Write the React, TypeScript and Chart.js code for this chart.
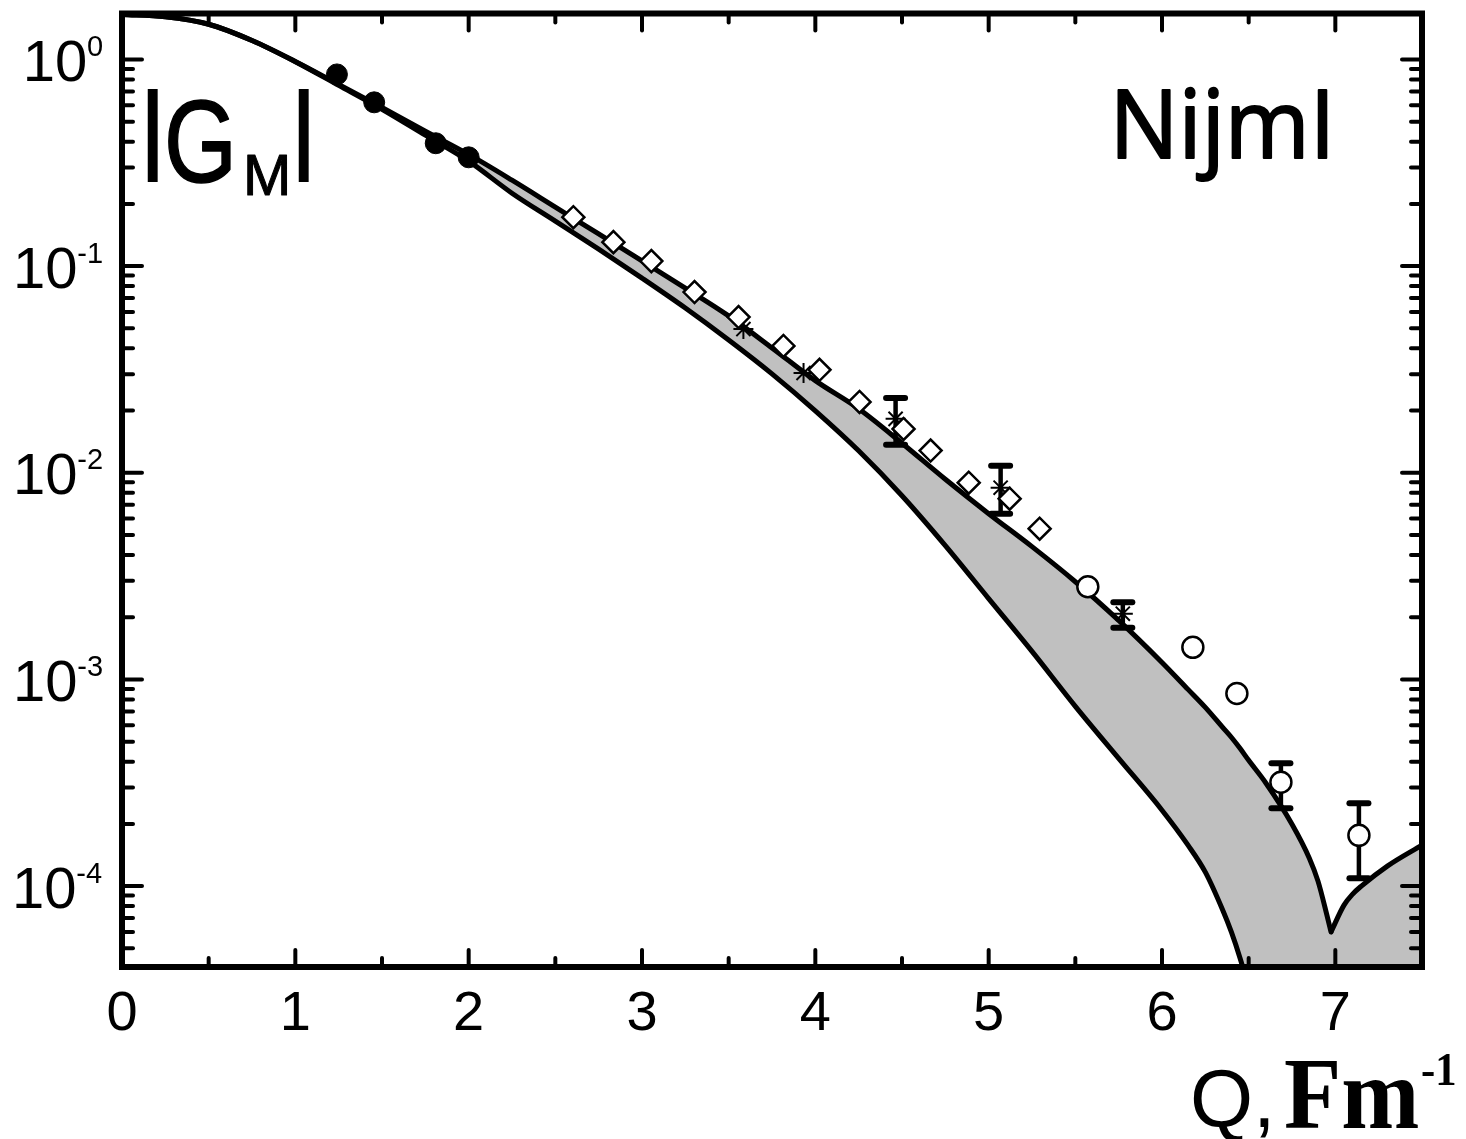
import React, { useEffect, useRef } from "react";
import { Chart, registerables } from "chart.js";

Chart.register(...registerables);

// ---- model band: lower curve and upper curve (left of the zero crossing) ----
const curveQ = [0, 0.25, 0.5, 0.75, 1.0, 1.25, 1.5, 1.75, 2.0, 2.25, 2.5, 2.75, 3.0, 3.25, 3.5, 3.75, 4.0, 4.25, 4.5, 4.75, 5.0, 5.25, 5.5, 5.75, 6.0, 6.15, 6.25, 6.35, 6.4, 6.45, 6.5, 6.6, 6.75, 6.85, 6.9, 6.95, 6.975];
const upperG = [1.65, 1.61, 1.48, 1.235, 0.978, 0.757, 0.586, 0.449, 0.347, 0.2604, 0.193, 0.143, 0.106, 0.0783, 0.0574, 0.0402, 0.0279, 0.0204, 0.0139, 0.0093, 0.00634, 0.00439, 0.00297, 0.00193, 0.001208, 8.95e-4, 7.32e-4, 5.86e-4, 5.25e-4, 4.64e-4, 4.06e-4, 3.145e-4, 1.993e-4, 1.365e-4, 1.057e-4, 7.32e-5, 6.0e-5];
const lowerG = [1.65, 1.61, 1.48, 1.235, 0.975, 0.749, 0.574, 0.43, 0.322, 0.2253, 0.165, 0.1208, 0.0875, 0.0627, 0.0439, 0.0301, 0.01993, 0.01277, 0.00774, 0.00444, 0.00246, 0.001366, 7.41e-4, 4.15e-4, 2.33e-4, 1.578e-4, 1.168e-4, 7.66e-5, 6.0e-5, 4.49e-5, 3.21e-5, 1.44e-5, 1e-7, 1e-7, 1e-7, 1e-7, 1e-7];
// upper curve right of the zero crossing
const tailQ = [6.975, 7.05, 7.1, 7.15, 7.3, 7.5];
const tailG = [6.0e-5, 8.09e-5, 9.15e-5, 1.0e-4, 1.25e-4, 1.58e-4];

// ---- experimental points ----
const filledQ = [1.24, 1.455, 1.81, 2.0];
const filledG = [0.846, 0.62, 0.393, 0.336];

const diamondQ = [2.604, 2.835, 3.054, 3.303, 3.557, 3.816, 4.024, 4.255, 4.509, 4.665, 4.885, 5.121, 5.294];
const diamondG = [0.1725, 0.1306, 0.1057, 0.0749, 0.0567, 0.0411, 0.0315, 0.022, 0.0163, 0.0128, 0.00895, 0.00749, 0.00536];

const starQ = [3.585, 3.932, 4.463, 5.069, 5.774];
const starG = [0.0496, 0.0304, 0.01823, 0.00847, 0.00208];
const starLo = [null, null, 0.01365, 0.00634, 0.00178];
const starHi = [null, null, 0.023, 0.0108, 0.00236];

const openQ = [5.572, 6.178, 6.432, 6.686, 7.136];
const openG = [0.00281, 0.00143, 8.55e-4, 3.18e-4, 1.76e-4];
const openLo = [null, null, null, 2.38e-4, 1.09e-4];
const openHi = [null, null, null, 3.93e-4, 2.52e-4];

// ---- axes ----
const X_MIN = 0;
const X_MAX = 7.5;
const Y_MIN = 4.06e-5;
const Y_MAX = 1.668;
const xTickValues = [0, 1, 2, 3, 4, 5, 6, 7];
const xTickLabels = ["0", "1", "2", "3", "4", "5", "6", "7"];
const xMinorValues = [0.5, 1.5, 2.5, 3.5, 4.5, 5.5, 6.5];
const yDecadeValues = [1, 0.1, 0.01, 0.001, 0.0001];
const yTickBase = "10";
const yTickExps = ["0", "-1", "-2", "-3", "-4"];

const SANS = '"Liberation Sans", Arial, sans-serif';
const SERIF = '"Liberation Serif", "Times New Roman", serif';
const OPEN = '"Open Sans", "Noto Sans", sans-serif';

const pts = (q: number[], g: number[]) => q.map((x, i) => ({ x, y: g[i] }));

function drawFitted(
  ctx: CanvasRenderingContext2D,
  text: string,
  weight: string,
  family: string,
  refChar: string,
  inkLeft: number,
  inkRight: number | null,
  capTop: number,
  baseline: number,
  strokeW = 0
) {
  ctx.font = `${weight} 100px ${family}`;
  const ref = ctx.measureText(refChar);
  const size = (100 * (baseline - capTop)) / ref.actualBoundingBoxAscent;
  ctx.font = `${weight} ${size}px ${family}`;
  const m = ctx.measureText(text);
  const inkW = m.actualBoundingBoxLeft + m.actualBoundingBoxRight;
  let sx = inkRight != null ? (inkRight - inkLeft) / inkW : 1;
  sx = Math.max(0.8, Math.min(1.2, sx));
  ctx.save();
  ctx.translate(inkLeft, baseline);
  ctx.scale(sx, 1);
  ctx.textAlign = "left";
  ctx.textBaseline = "alphabetic";
  ctx.fillText(text, m.actualBoundingBoxLeft, 0);
  if (strokeW > 0) {
    ctx.lineWidth = strokeW;
    ctx.lineJoin = "round";
    ctx.strokeText(text, m.actualBoundingBoxLeft, 0);
  }
  ctx.restore();
}

function drawVFit(
  ctx: CanvasRenderingContext2D,
  text: string,
  family: string,
  inkLeft: number,
  inkTop: number,
  inkBottom: number,
  strokeW = 0
) {
  ctx.font = `100px ${family}`;
  const r = ctx.measureText(text);
  const size = (100 * (inkBottom - inkTop)) / (r.actualBoundingBoxAscent + r.actualBoundingBoxDescent);
  ctx.font = `${size}px ${family}`;
  const m = ctx.measureText(text);
  ctx.textAlign = "left";
  ctx.textBaseline = "alphabetic";
  const x = inkLeft + m.actualBoundingBoxLeft;
  const y = inkTop + m.actualBoundingBoxAscent;
  ctx.fillText(text, x, y);
  if (strokeW > 0) {
    ctx.lineWidth = strokeW;
    ctx.strokeText(text, x, y);
  }
}

function line(ctx: CanvasRenderingContext2D, x1: number, y1: number, x2: number, y2: number) {
  ctx.beginPath();
  ctx.moveTo(x1, y1);
  ctx.lineTo(x2, y2);
  ctx.stroke();
}

function drawErrorBars(chart: any) {
  const ctx: CanvasRenderingContext2D = chart.ctx;
  const xs = chart.scales.x;
  const ys = chart.scales.y;
  ctx.save();
  ctx.strokeStyle = "#000";
  ctx.lineCap = "round";
  const sets: [number[], (number | null)[], (number | null)[]][] = [
    [starQ, starLo, starHi],
    [openQ, openLo, openHi],
  ];
  for (const [q, lo, hi] of sets) {
    q.forEach((qv, i) => {
      const l = lo[i];
      const h = hi[i];
      if (l == null || h == null) return;
      const x = xs.getPixelForValue(qv);
      const yl = ys.getPixelForValue(l);
      const yh = ys.getPixelForValue(h);
      ctx.lineWidth = 4.5;
      line(ctx, x, yl, x, yh);
      ctx.lineWidth = 6;
      line(ctx, x - 9.5, yl, x + 9.5, yl);
      line(ctx, x - 9.5, yh, x + 9.5, yh);
    });
  }
  ctx.restore();
}

const framePlugin = {
  id: "framePlugin",
  afterDatasetDraw(chart: any, args: any) {
    if (args.index === 0) drawErrorBars(chart);
  },
  afterDraw(chart: any) {
    const ctx: CanvasRenderingContext2D = chart.ctx;
    const { left, right, top, bottom } = chart.chartArea;
    const xs = chart.scales.x;
    const ys = chart.scales.y;
    ctx.save();
    ctx.strokeStyle = "#000";
    ctx.fillStyle = "#000";

    // ticks (inward, all four sides)
    ctx.lineCap = "round";
    ctx.lineWidth = 4;
    xTickValues.forEach((v) => {
      const px = xs.getPixelForValue(v);
      if (px < left + 3 || px > right - 3) return;
      line(ctx, px, bottom, px, bottom - 17);
      line(ctx, px, top, px, top + 17);
    });
    xMinorValues.forEach((v) => {
      const px = xs.getPixelForValue(v);
      line(ctx, px, bottom, px, bottom - 9);
      line(ctx, px, top, px, top + 9);
    });
    for (let d = -5; d <= 0; d++) {
      for (let m = 1; m <= 9; m++) {
        const v = m * Math.pow(10, d);
        if (v < Y_MIN || v > Y_MAX) continue;
        const py = ys.getPixelForValue(v);
        const L = m === 1 ? 20 : 11;
        line(ctx, left, py, left + L, py);
        line(ctx, right, py, right - L, py);
      }
    }

    // frame
    ctx.lineCap = "butt";
    ctx.lineJoin = "miter";
    ctx.lineWidth = 6;
    ctx.strokeRect(left, top, right - left, bottom - top);

    // x tick labels
    ctx.font = `56px ${SANS}`;
    ctx.textAlign = "center";
    ctx.textBaseline = "alphabetic";
    xTickValues.forEach((v, i) => {
      const px = xs.getPixelForValue(v);
      ctx.fillText(xTickLabels[i], px, bottom + 63);
    });

    // y tick labels 10^n
    yDecadeValues.forEach((v, i) => {
      const py = ys.getPixelForValue(v);
      const base = py + 21.5;
      ctx.textAlign = "left";
      ctx.font = `29px ${SANS}`;
      const ms = ctx.measureText(yTickExps[i]);
      const supX = 102 - ms.actualBoundingBoxRight;
      const supInkLeft = supX - ms.actualBoundingBoxLeft;
      ctx.fillText(yTickExps[i], supX, base - 25);
      ctx.font = `58px ${SANS}`;
      const mm = ctx.measureText(yTickBase);
      ctx.fillText(yTickBase, supInkLeft - 3 - mm.actualBoundingBoxRight, base);
    });

    // |G_M| label
    drawVFit(ctx, "|", SANS, 148, 90, 182, 2);
    drawFitted(ctx, "G", "", SANS, "H", 168, 230, 101, 182, 1.5);
    drawFitted(ctx, "M", "", SANS, "M", 247, 287, 155, 195, 1);
    drawVFit(ctx, "|", SANS, 299, 90, 182, 2);

    // NijmI
    drawFitted(ctx, "NijmI", "", OPEN, "N", 1118, 1327, 88, 158, 2);

    // axis title
    drawFitted(ctx, "Q,", "", SANS, "H", 1193, null, 1071, 1127);
    drawFitted(ctx, "Fm", "bold", SERIF, "F", 1285, 1418, 1062, 1128);
    drawFitted(ctx, "-1", "bold", SERIF, "1", 1422, 1455, 1055, 1085);

    ctx.restore();
  },
};

export default function App() {
  const canvasRef = useRef<HTMLCanvasElement | null>(null);

  useEffect(() => {
    const canvas = canvasRef.current;
    if (!canvas) return;
    const curveStyle = {
      borderColor: "#000",
      borderWidth: 5,
      pointRadius: 0,
      cubicInterpolationMode: "monotone",
      borderJoinStyle: "round",
      borderCapStyle: "round",
      backgroundColor: "#c0c0c0",
      order: 0,
    };
    const chart = new Chart(canvas, {
      type: "line",
      data: {
        datasets: [
          { ...curveStyle, label: "lower", data: pts(curveQ, lowerG), fill: false },
          { ...curveStyle, label: "upper", data: pts(curveQ, upperG), fill: "-1" },
          { ...curveStyle, label: "upper tail", data: pts(tailQ, tailG), fill: "start" },
          {
            label: "filled",
            data: pts(filledQ, filledG),
            showLine: false,
            pointStyle: "circle",
            pointRadius: 10.5,
            pointBackgroundColor: "#000",
            pointBorderColor: "#000",
            pointBorderWidth: 1,
            order: -1,
          },
          {
            label: "diamonds",
            data: pts(diamondQ, diamondG),
            showLine: false,
            pointStyle: "rectRot",
            pointRadius: 11,
            pointBackgroundColor: "#fff",
            pointBorderColor: "#000",
            pointBorderWidth: 2.5,
            order: -1,
          },
          {
            label: "stars",
            data: pts(starQ, starG),
            showLine: false,
            pointStyle: "star",
            pointRadius: 10,
            pointBackgroundColor: "#000",
            pointBorderColor: "#000",
            pointBorderWidth: 2,
            order: -1,
          },
          {
            label: "open",
            data: pts(openQ, openG),
            showLine: false,
            pointStyle: "circle",
            pointRadius: 10.5,
            pointBackgroundColor: "#fff",
            pointBorderColor: "#000",
            pointBorderWidth: 2.5,
            order: -1,
          },
        ],
      },
      options: {
        animation: false,
        responsive: false,
        events: [],
        layout: { padding: { left: 122, right: 44, top: 12, bottom: 172 } },
        plugins: {
          legend: { display: false },
          tooltip: { enabled: false },
          title: { display: false },
        },
        scales: {
          x: { type: "linear", min: X_MIN, max: X_MAX, display: false, bounds: "data" },
          y: { type: "logarithmic", min: Y_MIN, max: Y_MAX, display: false, bounds: "data" },
        },
      },
      plugins: [framePlugin],
    } as any);

    let alive = true;
    const fonts = (document as any).fonts;
    if (fonts && fonts.load) {
      Promise.all([
        fonts.load(`50px ${SANS}`),
        fonts.load(`bold 50px ${SERIF}`),
        fonts.load(`50px ${OPEN}`),
      ])
        .then(() => {
          if (alive) chart.draw();
        })
        .catch(() => {});
    }
    return () => {
      alive = false;
      chart.destroy();
    };
  }, []);

  return (
    <div
      style={{
        position: "fixed",
        left: 0,
        top: 0,
        width: 1466,
        height: 1139,
        background: "#fff",
      }}
    >
      <canvas ref={canvasRef} width={1466} height={1139} style={{ display: "block", width: 1466, height: 1139 }} />
    </div>
  );
}
